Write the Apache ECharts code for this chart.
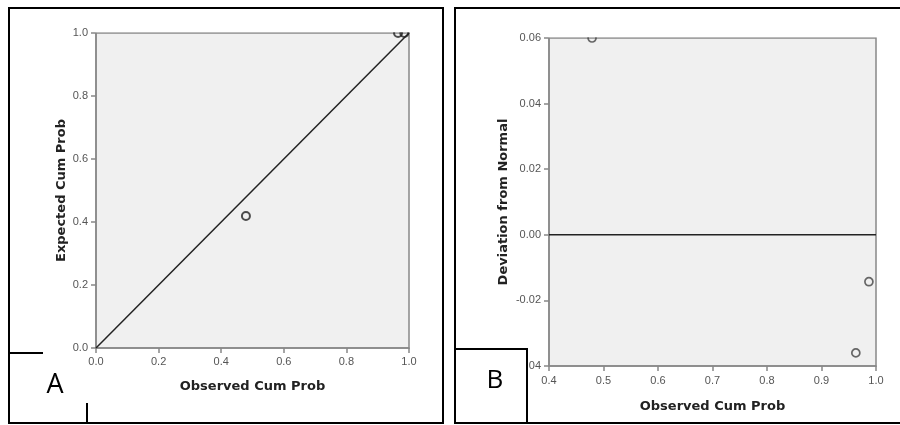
<!DOCTYPE html>
<html><head><meta charset="utf-8">
<script src="https://cdn.jsdelivr.net/npm/echarts@6/dist/echarts.min.js"></script>
<style>html,body{margin:0;padding:0;background:#fff}#c{width:900px;height:425px}</style>
</head><body><div id="c"></div>
<script>
// Panel A: P-P plot
const observedA = [0.479, 0.965, 0.985];
const expectedA = [0.419, 1.0, 1.0];
const refLineA = [[0, 0], [1, 1]];
const ticksA = [0.0, 0.2, 0.4, 0.6, 0.8, 1.0];
// Panel B: detrended P-P plot
const observedB = [0.479, 0.987, 0.963];
const deviationB = [0.06, -0.0143, -0.036];
const ticksBx = [0.4, 0.5, 0.6, 0.7, 0.8, 0.9, 1.0];
const ticksBy = [-0.04, -0.02, 0.00, 0.02, 0.04, 0.06];
const zeroLineB = [[0.4, 0], [1.0, 0]];

const gA = {left: 96, top: 33, width: 313, height: 315};
const gB = {left: 549, top: 38, width: 327, height: 328};

const tickFont = {fontFamily: 'Liberation Sans, Arial', fontSize: 11, color: '#555'};
const nameFont = {fontFamily: 'DejaVu Sans', fontSize: 13, fontWeight: 'bold', color: '#222'};
const axisLine = {show: true, onZero: false, lineStyle: {color: '#888', width: 1.5}};
const axisTick = {show: true, length: 5, lineStyle: {color: '#888', width: 1.5}};

const chart = echarts.init(document.getElementById('c'), null, {renderer: 'canvas'});
chart.setOption({
  animation: false,
  backgroundColor: '#fff',
  grid: [
    Object.assign({show: true, backgroundColor: '#f0f0f0', borderColor: '#888', borderWidth: 1.5}, gA),
    Object.assign({show: true, backgroundColor: '#f0f0f0', borderColor: '#888', borderWidth: 1.5}, gB)
  ],
  xAxis: [
    {gridIndex: 0, type: 'value', min: 0, max: 1, interval: 0.2,
     name: 'Observed Cum Prob', nameLocation: 'middle', nameGap: 32, nameTextStyle: nameFont,
     axisLine, axisTick, splitLine: {show: false},
     axisLabel: Object.assign({margin: 8, formatter: v => v.toFixed(1)}, tickFont)},
    {gridIndex: 1, type: 'value', min: 0.4, max: 1.0, interval: 0.1,
     name: 'Observed Cum Prob', nameLocation: 'middle', nameGap: 34, nameTextStyle: nameFont,
     axisLine, axisTick, splitLine: {show: false},
     axisLabel: Object.assign({margin: 9, formatter: v => v.toFixed(1)}, tickFont)}
  ],
  yAxis: [
    {gridIndex: 0, type: 'value', min: 0, max: 1, interval: 0.2,
     name: 'Expected Cum Prob', nameLocation: 'middle', nameGap: 28, nameTextStyle: nameFont,
     axisLine, axisTick, splitLine: {show: false},
     axisLabel: Object.assign({margin: 8, formatter: v => v.toFixed(1)}, tickFont)},
    {gridIndex: 1, type: 'value', min: -0.04, max: 0.06, interval: 0.02,
     name: 'Deviation from Normal', nameLocation: 'middle', nameGap: 39, nameTextStyle: nameFont,
     axisLine, axisTick, splitLine: {show: false},
     axisLabel: Object.assign({margin: 8, formatter: v => v.toFixed(2)}, tickFont)}
  ],
  series: [
    {type: 'line', xAxisIndex: 0, yAxisIndex: 0, data: refLineA, symbol: 'none',
     lineStyle: {color: '#222', width: 1.5}, z: 1},
    {type: 'scatter', xAxisIndex: 0, yAxisIndex: 0, clip: false,
     data: observedA.map((x, i) => [x, expectedA[i]]),
     symbol: 'circle', symbolSize: 8,
     itemStyle: {color: 'rgba(0,0,0,0)', borderColor: '#222', borderWidth: 2}, z: 2},
    {type: 'line', xAxisIndex: 1, yAxisIndex: 1, data: zeroLineB, symbol: 'none',
     lineStyle: {color: '#222', width: 1.5}, z: 1},
    {type: 'scatter', xAxisIndex: 1, yAxisIndex: 1, clip: false,
     data: observedB.map((x, i) => [x, deviationB[i]]),
     symbol: 'circle', symbolSize: 8,
     itemStyle: {color: 'rgba(0,0,0,0)', borderColor: '#444', borderWidth: 1.7}, z: 2}
  ],
  graphic: [
    // masks that clip markers at the top plot edge
    {type: 'rect', z: 5, shape: {x: gA.left - 1, y: 10, width: gA.width + 6, height: gA.top - 10.7}, style: {fill: '#fff'}},
    {type: 'rect', z: 5, shape: {x: gB.left - 1, y: 10, width: gB.width + 6, height: gB.top - 10.7}, style: {fill: '#fff'}},
    // panel frames
    {type: 'rect', z: 6, shape: {x: 9, y: 8, width: 434, height: 415}, style: {fill: 'none', stroke: '#000', lineWidth: 2}},
    {type: 'polyline', z: 6, shape: {points: [[900, 8], [455, 8], [455, 423], [900, 423]]}, style: {fill: 'none', stroke: '#000', lineWidth: 2}},
    // panel A label marks
    {type: 'line', z: 6, shape: {x1: 9, y1: 353, x2: 43, y2: 353}, style: {stroke: '#000', lineWidth: 2}},
    {type: 'line', z: 6, shape: {x1: 87, y1: 403, x2: 87, y2: 423}, style: {stroke: '#000', lineWidth: 2}},
    {type: 'text', z: 6, style: {text: 'A', x: 55, y: 385, fontFamily: 'Open Sans, Liberation Sans', fontSize: 27, fill: '#000', textAlign: 'center', textVerticalAlign: 'middle'}},
    // panel B label box
    {type: 'rect', z: 6, shape: {x: 455, y: 349, width: 72, height: 74}, style: {fill: '#fff', stroke: '#000', lineWidth: 2}},
    {type: 'text', z: 7, style: {text: 'B', x: 495, y: 381, fontFamily: 'Open Sans, Liberation Sans', fontSize: 26, fill: '#000', textAlign: 'center', textVerticalAlign: 'middle'}}
  ]
});
</script></body></html>
